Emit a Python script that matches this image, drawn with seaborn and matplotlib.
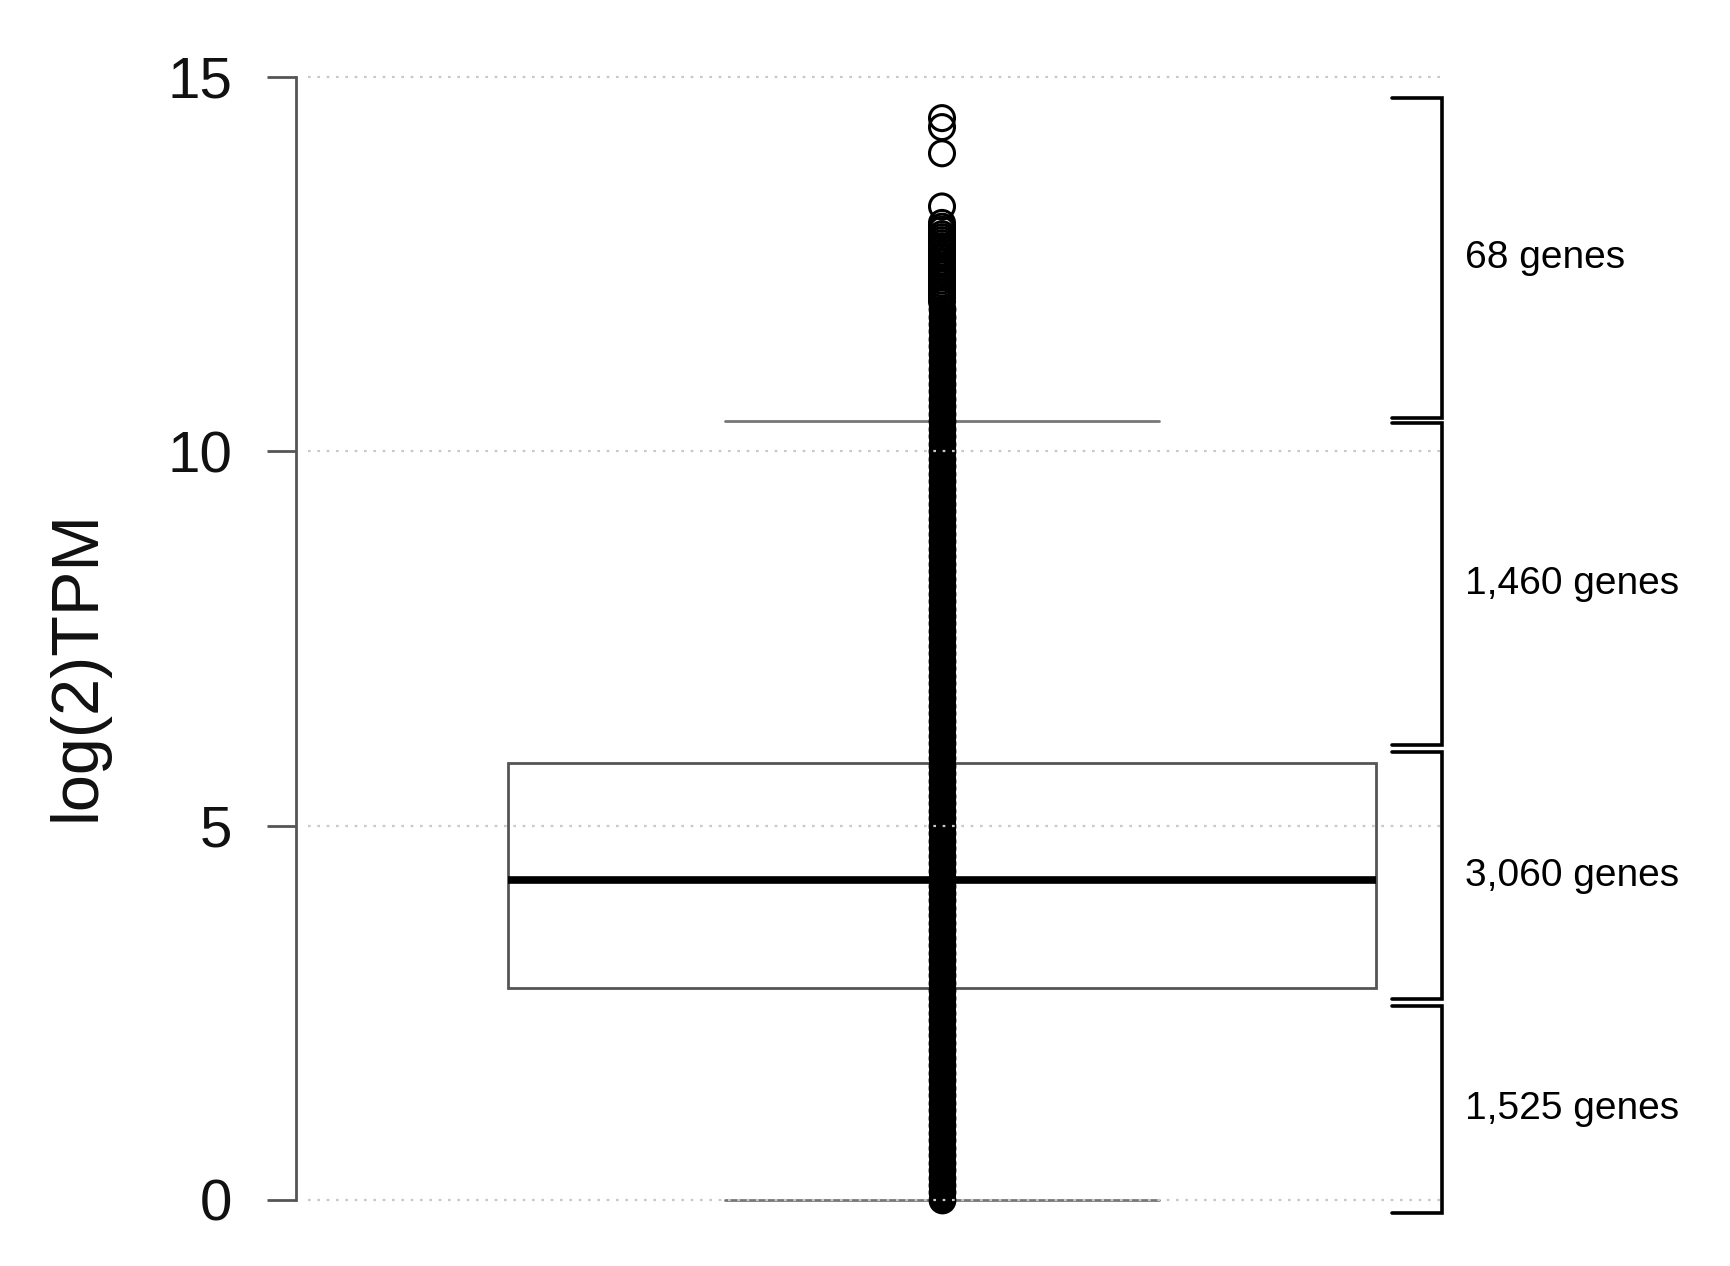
import matplotlib
matplotlib.use("Agg")
import matplotlib.pyplot as plt
import seaborn as sns

# five-number summary of the box (log2 TPM): min, Q1, median, Q3, max whisker
box_summary = [0.0, 2.83, 4.27, 5.84, 10.40]

# separate outliers at the top
outliers = [14.45, 14.33, 13.98, 13.27]

# upper tail of the strip, rings still partly visible
upper_tail = [13.05, 13.00, 12.96, 12.90, 12.86, 12.82, 12.78, 12.74, 12.70, 12.65,
              12.61, 12.58, 12.53, 12.47, 12.43, 12.40, 12.36, 12.32, 12.28, 12.24,
              12.20, 12.17, 12.13, 12.09, 12.05, 12.00]

# solid black part of the strip (points overlap completely here)
dense_column = [0.0, 0.1, 0.2, 0.3, 0.4, 0.5, 0.6, 0.7, 0.8, 0.9,
                1.0, 1.1, 1.2, 1.3, 1.4, 1.5, 1.6, 1.7, 1.8, 1.9,
                2.0, 2.1, 2.2, 2.3, 2.4, 2.5, 2.6, 2.7, 2.8, 2.9,
                3.0, 3.1, 3.2, 3.3, 3.4, 3.5, 3.6, 3.7, 3.8, 3.9,
                4.0, 4.1, 4.2, 4.3, 4.4, 4.5, 4.6, 4.7, 4.8, 4.9,
                5.0, 5.1, 5.2, 5.3, 5.4, 5.5, 5.6, 5.7, 5.8, 5.9,
                6.0, 6.1, 6.2, 6.3, 6.4, 6.5, 6.6, 6.7, 6.8, 6.9,
                7.0, 7.1, 7.2, 7.3, 7.4, 7.5, 7.6, 7.7, 7.8, 7.9,
                8.0, 8.1, 8.2, 8.3, 8.4, 8.5, 8.6, 8.7, 8.8, 8.9,
                9.0, 9.1, 9.2, 9.3, 9.4, 9.5, 9.6, 9.7, 9.8, 9.9,
                10.0, 10.1, 10.2, 10.3, 10.4, 10.5, 10.6, 10.7, 10.8, 10.9,
                11.0, 11.1, 11.2, 11.3, 11.4, 11.5, 11.6, 11.7, 11.8, 11.9]

# brackets on the right
bracket_low = [10.44, 6.08, 2.68, -0.17]
bracket_high = [14.72, 10.38, 5.98, 2.59]
bracket_labels = ["68 genes", "1,460 genes", "3,060 genes", "1,525 genes"]

y_ticks = [0, 5, 10, 15]

sns.set_style("white")
plt.rcParams["font.family"] = ["Liberation Sans", "DejaVu Sans"]

fig = plt.figure(figsize=(17.3, 12.66), dpi=100)
ax = fig.add_axes([0.1711, 0.01667, 0.8116, 0.9403])

sns.boxplot(y=box_summary, whis=(0, 100), width=0.8, color="white",
            linecolor="#555555", linewidth=2, showfliers=False,
            medianprops=dict(color="black", linewidth=5.5),
            capprops=dict(color="#777777"),
            whiskerprops=dict(color="#777777"), ax=ax)

sns.stripplot(y=dense_column, jitter=False, color="black", size=20,
              linewidth=0, zorder=3, ax=ax)
sns.stripplot(y=upper_tail + outliers, jitter=False, color="black", size=18,
              linewidth=2.2, edgecolor="black", zorder=3, ax=ax)
ax.collections[-1].set_facecolor("none")

# dotted grid drawn over the points, as in the original
ax.hlines(y_ticks, -0.585, 0.462, colors="#c8c8c8", linewidth=1.6,
          linestyles=(0, (1.2, 3.0)), zorder=5)

arm_x, bar_x, text_x = 0.4152, 0.4614, 0.4826
for lo, hi, lab in zip(bracket_low, bracket_high, bracket_labels):
    ax.plot([arm_x, bar_x, bar_x, arm_x], [hi, hi, lo, lo], color="black",
            lw=2.6, solid_joinstyle="miter", clip_on=False)
    ax.text(text_x, (lo + hi) / 2, lab, fontsize=28, va="center", ha="left",
            color="black")

ax.set_xlim(-0.596, 0.6994)
ax.set_ylim(-0.6, 15.3)
ax.set_xticks([])
ax.set_xlabel("")
ax.set_yticks(y_ticks)
ax.set_yticklabels([str(t) for t in y_ticks])
ax.tick_params(axis="y", left=True, length=21, width=2, pad=25, color="#555555",
               labelsize=42, labelcolor="#111111")
for side in ["top", "right", "bottom"]:
    ax.spines[side].set_visible(False)
ax.spines["left"].set_bounds(0, 15)
ax.spines["left"].set_color("#555555")
ax.spines["left"].set_linewidth(2)

ax.set_ylabel("log(2)TPM", fontsize=48, va="center", color="#111111")
ax.yaxis.set_label_coords(-0.1553, 0.4871)

plt.savefig("out.png", dpi=100)
plt.close()
